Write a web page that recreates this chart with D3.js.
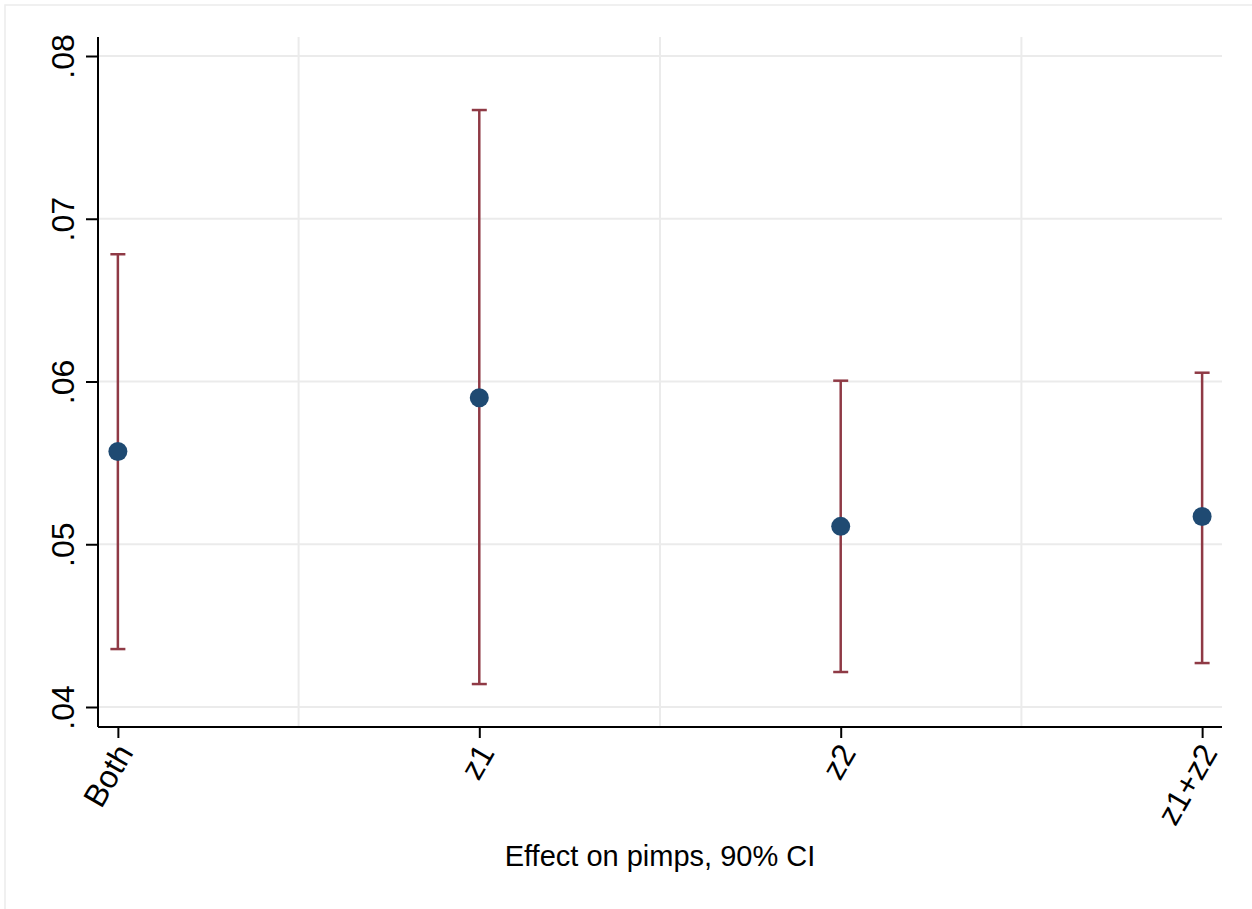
<!DOCTYPE html>
<html>
<head>
<meta charset="utf-8">
<script src="https://cdn.jsdelivr.net/npm/d3@7"></script>
<style>
  body { margin: 0; background: #fff; }
  text { font-family: "Liberation Sans", Arial, sans-serif; }
</style>
</head>
<body>
<div id="canvas"></div>
<script>
// data
let categories = ["Both", "z1", "z2", "z1+z2"];
let estimates = [0.0557, 0.0590, 0.0511, 0.0517];
let ciLow = [0.04356, 0.04141, 0.04215, 0.0427];
let ciHigh = [0.06782, 0.07668, 0.06005, 0.06054];
let yTicks = [0.04, 0.05, 0.06, 0.07, 0.08];
let xGrid = [0.5, 1.5, 2.5];

let width = 1252;
let height = 909;
let margin = { top: 37, bottom: 182, left: 98, right: 30 };

let svg = d3.select("#canvas")
  .append("svg")
  .attr("width", width)
  .attr("height", height);

// faint outer frame (top and left edges only visible)
svg.append("path")
  .attr("d", "M5,909 L5,5 L1252,5")
  .attr("fill", "none")
  .attr("stroke", "#ececec")
  .attr("stroke-width", 1.5);

let escalaX = d3.scaleLinear()
  .domain([-0.055, 3.055])
  .range([margin.left, width - margin.right]);
let escalaY = d3.scaleLinear()
  .domain([0.04, 0.08])
  .range([707, 56]);

let plotBottom = height - margin.bottom;

// grid
svg.append("g")
  .selectAll("line")
  .data(yTicks)
  .enter()
  .append("line")
  .attr("x1", margin.left)
  .attr("x2", width - margin.right)
  .attr("y1", d => escalaY(d))
  .attr("y2", d => escalaY(d))
  .attr("stroke", "#ebebeb")
  .attr("stroke-width", 2);

svg.append("g")
  .selectAll("line")
  .data(xGrid)
  .enter()
  .append("line")
  .attr("x1", d => escalaX(d))
  .attr("x2", d => escalaX(d))
  .attr("y1", margin.top)
  .attr("y2", plotBottom)
  .attr("stroke", "#ebebeb")
  .attr("stroke-width", 2);

// y axis
let ejeY = d3.axisLeft(escalaY)
  .tickValues(yTicks)
  .tickSize(12)
  .tickFormat(d => d3.format(".2f")(d).replace(/^0/, ""));
let gY = svg.append("g")
  .attr("transform", "translate(" + margin.left + ",0)")
  .call(ejeY);
gY.select(".domain")
  .attr("d", "M0," + margin.top + "V" + plotBottom)
  .attr("stroke", "#000")
  .attr("stroke-width", 2);
gY.selectAll(".tick line").attr("stroke", "#000").attr("stroke-width", 2);
gY.selectAll(".tick text")
  .attr("font-size", 32)
  .attr("fill", "#000")
  .attr("text-anchor", "middle")
  .attr("x", 0)
  .attr("y", 0)
  .attr("dy", 0)
  .attr("transform", "translate(-24,0) rotate(-90)");

// x axis
let ejeX = d3.axisBottom(escalaX)
  .tickValues(d3.range(categories.length))
  .tickSize(11)
  .tickFormat(i => categories[i]);
let gX = svg.append("g")
  .attr("transform", "translate(0," + plotBottom + ")")
  .call(ejeX);
gX.select(".domain")
  .attr("d", "M" + margin.left + ",0H" + (width - margin.right))
  .attr("stroke", "#000")
  .attr("stroke-width", 2);
gX.selectAll(".tick line").attr("stroke", "#000").attr("stroke-width", 2);
gX.selectAll(".tick text")
  .attr("font-size", 32)
  .attr("fill", "#000")
  .attr("text-anchor", "end")
  .attr("x", 0)
  .attr("y", 0)
  .attr("dy", "0.35em")
  .attr("transform", "translate(6,20) rotate(-60)");

// x title
svg.append("text")
  .attr("x", (margin.left + width - margin.right) / 2)
  .attr("y", 866)
  .attr("text-anchor", "middle")
  .attr("font-size", 29)
  .attr("fill", "#000")
  .text("Effect on pimps, 90% CI");

// CI bars
let ciColor = "#8f3a45";
let cap = 7.5;
let ci = svg.append("g");
ci.selectAll("line.ci")
  .data(categories)
  .enter()
  .append("line")
  .attr("class", "ci")
  .attr("x1", (d, i) => escalaX(i))
  .attr("x2", (d, i) => escalaX(i))
  .attr("y1", (d, i) => escalaY(ciLow[i]))
  .attr("y2", (d, i) => escalaY(ciHigh[i]))
  .attr("stroke", ciColor)
  .attr("stroke-width", 2.5);
ci.selectAll("line.hi")
  .data(categories)
  .enter()
  .append("line")
  .attr("class", "hi")
  .attr("x1", (d, i) => escalaX(i) - cap)
  .attr("x2", (d, i) => escalaX(i) + cap)
  .attr("y1", (d, i) => escalaY(ciHigh[i]))
  .attr("y2", (d, i) => escalaY(ciHigh[i]))
  .attr("stroke", ciColor)
  .attr("stroke-width", 2.5);
ci.selectAll("line.lo")
  .data(categories)
  .enter()
  .append("line")
  .attr("class", "lo")
  .attr("x1", (d, i) => escalaX(i) - cap)
  .attr("x2", (d, i) => escalaX(i) + cap)
  .attr("y1", (d, i) => escalaY(ciLow[i]))
  .attr("y2", (d, i) => escalaY(ciLow[i]))
  .attr("stroke", ciColor)
  .attr("stroke-width", 2.5);

// point estimates
svg.append("g")
  .selectAll("circle")
  .data(estimates)
  .enter()
  .append("circle")
  .attr("cx", (d, i) => escalaX(i))
  .attr("cy", d => escalaY(d))
  .attr("r", 9.5)
  .attr("fill", "#1f4a72");
</script>
</body>
</html>
